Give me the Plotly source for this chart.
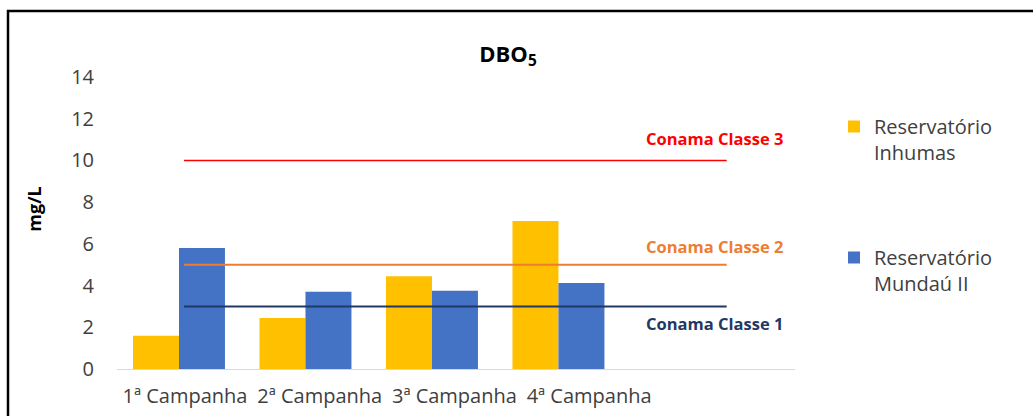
import plotly.graph_objects as go

categories = ["1ª Campanha", "2ª Campanha", "3ª Campanha", "4ª Campanha"]
inhumas = [1.6, 2.45, 4.45, 7.1]
mundau = [5.8, 3.7, 3.75, 4.12]
conama_names = ["Conama Classe 3", "Conama Classe 2", "Conama Classe 1"]
conama_values = [10, 5, 3]
conama_colors = ["#FF0000", "#ED7D31", "#1F3864"]
y_ticks = [0, 2, 4, 6, 8, 10, 12, 14]

FONT = "Open Sans"
W, H = 1033, 416
L, R, T, B = 117, 238, 77, 47
pw, ph = W - L - R, H - T - B

def px_x(p):
    return (p - L) / pw

def px_y(p):
    return (H - B - p) / ph

x_idx = list(range(len(categories)))
fig = go.Figure()
fig.add_trace(go.Bar(x=x_idx, y=inhumas, name="Reservatório<br>Inhumas",
                     marker=dict(color="#FFC000", line=dict(width=0)), legend="legend"))
fig.add_trace(go.Bar(x=x_idx, y=mundau, name="Reservatório<br>Mundaú II",
                     marker=dict(color="#4472C4", line=dict(width=0)), legend="legend2"))

line_x = [0.04, 4.33]
shifts = [22, 18, -17]
widths = [1.5, 2, 2]
for name, val, col, sh, lw in zip(conama_names, conama_values, conama_colors, shifts, widths):
    fig.add_trace(go.Scatter(x=line_x, y=[val, val], mode="lines",
                             line=dict(color=col, width=lw), showlegend=False, hoverinfo="skip"))
    fig.add_annotation(x=4.23, y=val, xref="x", yref="y", text=f"<b>{name}</b>",
                       showarrow=False, yshift=sh,
                       font=dict(family=FONT, size=16.5, color=col))

# invisible trace so the label axis (xaxis2) is drawn
fig.add_trace(go.Scatter(x=x_idx, y=[None] * len(x_idx), xaxis="x2", yaxis="y",
                         mode="markers", showlegend=False, hoverinfo="skip"))

# outer frame
fig.add_shape(type="path", xref="paper", yref="paper",
              path=f"M {px_x(1040)} {px_y(11)} L {px_x(8)} {px_y(11)} L {px_x(8)} {px_y(430)}",
              line=dict(color="black", width=2.5))

lab_step = 134.7
lab_r0 = -(185 - L) / lab_step
lab_r1 = lab_r0 + pw / lab_step

fig.update_layout(
    width=W, height=H,
    margin=dict(l=L, r=R, t=T, b=B),
    plot_bgcolor="white", paper_bgcolor="white",
    barmode="group", bargap=0.273, bargroupgap=0,
    font=dict(family=FONT, color="#595959"),
    title=dict(text="<b>DBO<sub>5</sub></b>", x=508 / W, xanchor="center",
               y=1 - 54 / H, yanchor="middle", yref="container",
               font=dict(family=FONT, size=22, color="black")),
    xaxis=dict(range=[-0.49, 4.87], tickvals=x_idx, showticklabels=False,
               automargin=False,
               showgrid=False, zeroline=False, showline=True, linecolor="#D9D9D9", linewidth=1,
               ticks=""),
    xaxis2=dict(range=[lab_r0, lab_r1], overlaying="x", side="bottom", anchor="y",
                tickvals=x_idx, ticktext=categories, tickangle=0, automargin=False,
                showgrid=False, zeroline=False, showline=False, ticks="",
                tickfont=dict(family=FONT, size=20, color="#404040"), ticklabelstandoff=13),
    yaxis=dict(range=[0, 14], tickvals=y_ticks, showgrid=False, zeroline=False, showline=False,
               automargin=False,
               ticks="", tickfont=dict(family=FONT, size=20, color="#404040"), ticklabelstandoff=22,
               title=dict(text="&nbsp;" * 6 + "<b>mg/L</b>",
                          font=dict(family=FONT, size=18, color="black"), standoff=24)),
    legend=dict(x=px_x(834), y=px_y(107), xanchor="left", yanchor="top", valign="top",
                font=dict(family=FONT, size=20, color="#404040"), bgcolor="rgba(0,0,0,0)"),
    legend2=dict(x=px_x(834), y=px_y(238), xanchor="left", yanchor="top", valign="top",
                 font=dict(family=FONT, size=20, color="#404040"), bgcolor="rgba(0,0,0,0)"),
    showlegend=True,
)

fig.write_html("out.html", config={"displayModeBar": False},
               post_script="document.body.style.margin='0px';")
